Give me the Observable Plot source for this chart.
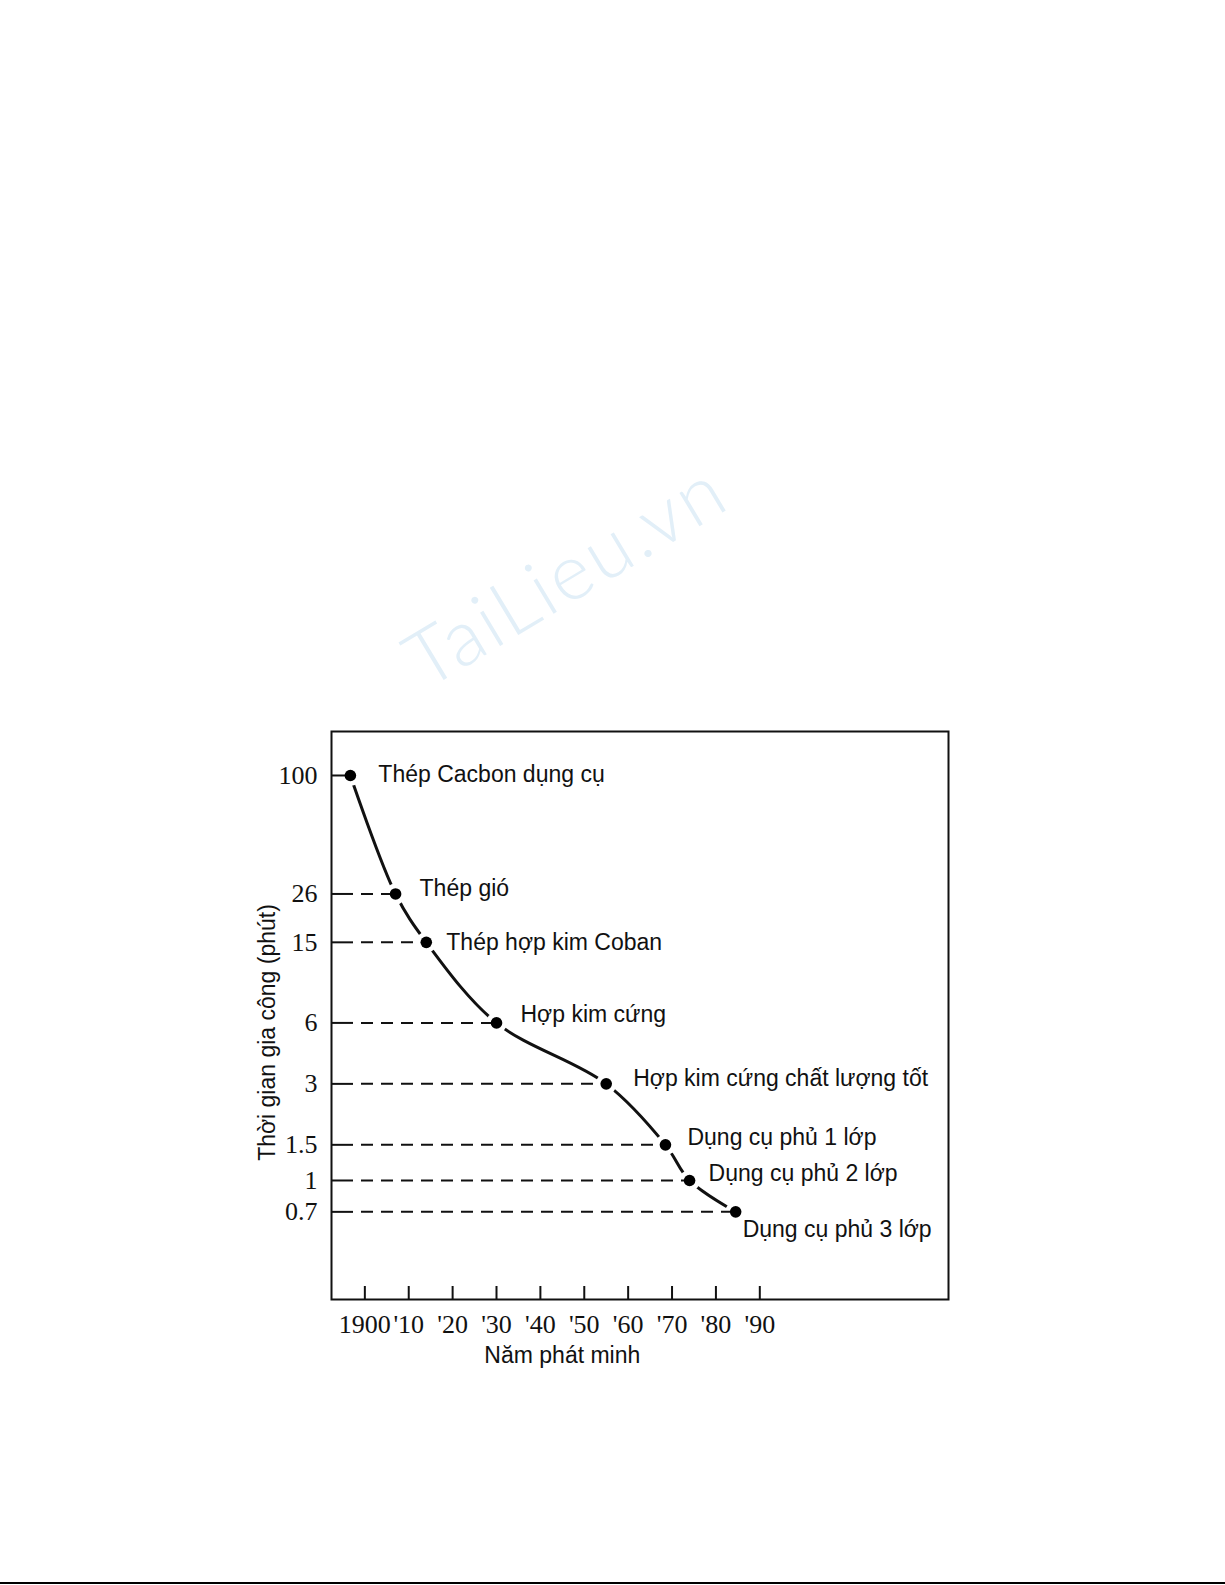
<!DOCTYPE html>
<html>
<head>
<meta charset="utf-8">
<script src="https://cdn.jsdelivr.net/npm/d3@7"></script>
<script src="https://cdn.jsdelivr.net/npm/@observablehq/plot@0.6"></script>
<style>
  html, body { margin: 0; padding: 0; background: #fff; }
  body { width: 1225px; height: 1585px; position: relative; overflow: hidden; }
  #wm {
    position: absolute; left: 424px; top: 622px;
    font-family: Lato, "Open Sans", sans-serif; font-weight: 300;
    font-size: 78px; line-height: 78px; letter-spacing: 3px; white-space: nowrap;
    color: rgb(226, 239, 248);
    transform-origin: 0 65px; transform: rotate(-31deg);
  }
  #chart { position: absolute; left: 0; top: 0; }
  #bottomline { position: absolute; left: 0; top: 1582px; width: 1225px; height: 2px; background: #000; }
</style>
</head>
<body>
<div id="wm">TaiLieu.vn</div>
<div id="chart"></div>
<div id="bottomline"></div>
<script>
// ---- data ----
const names = [
  "Thép Cacbon dụng cụ",
  "Thép gió",
  "Thép hợp kim Coban",
  "Hợp kim cứng",
  "Hợp kim cứng chất lượng tốt",
  "Dụng cụ phủ 1 lớp",
  "Dụng cụ phủ 2 lớp",
  "Dụng cụ phủ 3 lớp"
];
const years = [1896.7, 1907, 1914, 1930, 1955, 1968.5, 1974, 1984.5];
const minutes = [100, 26, 15, 6, 3, 1.5, 1, 0.7];
const yTicks = [100, 26, 15, 6, 3, 1.5, 1, 0.7];
const yTickLabels = ["100", "26", "15", "6", "3", "1.5", "1", "0.7"];
const xTicks = [1900, 1910, 1920, 1930, 1940, 1950, 1960, 1970, 1980, 1990];
const xTickLabels = ["1900", "'10", "'20", "'30", "'40", "'50", "'60", "'70", "'80", "'90"];
const xTitle = "Năm phát minh";
const yTitle = "Thời gian gia công (phút)";

// ---- layout ----
const W = 1225, H = 1585;
const M = {top: 731, right: 277, bottom: 286, left: 331};
const xDomain = [1892.4, 2033];
const yDomain = [0.2584, 164.9];
const labelDx = [28, 24, 20, 24, 27, 22, 19, 7];
const labelDy = [-1, -5, 0, -8, -5, -7, -7, 18];
const plotW = W - M.left - M.right;
const plotH = H - M.top - M.bottom;
const serif = "'Liberation Serif', 'Times New Roman', serif";
const sans = "'Liberation Sans', Arial, sans-serif";
const ink = "#111";

const near = (arr, v) => arr.findIndex(t => Math.abs(t - v) <= 1e-6 * Math.max(1, Math.abs(t)));
const points = names.map((name, i) => ({name, year: years[i], value: minutes[i]}));
const yTickRows = yTicks.map((v, i) => ({v, label: yTickLabels[i]}));

const chart = Plot.plot({
  width: W,
  height: H,
  marginTop: M.top,
  marginRight: M.right,
  marginBottom: M.bottom,
  marginLeft: M.left,
  style: {background: "transparent", fontFamily: sans, color: ink, overflow: "visible"},
  x: {type: "linear", domain: xDomain},
  y: {type: "log", domain: yDomain, axis: null},
  marks: [
    Plot.frame({stroke: ink, strokeWidth: 2}),
    Plot.tickX(xTicks, {x: d => d, insetTop: plotH - 13, stroke: ink, strokeWidth: 2}),
    Plot.axisX({
      ticks: xTicks, tickFormat: d => xTickLabels[near(xTicks, d)],
      tickSize: 0, tickPadding: 15, fontSize: 26, fontFamily: serif, label: null, fill: ink
    }),
    // y tick labels (log scale positions)
    Plot.text(yTickRows, {
      y: "v", text: "label", frameAnchor: "left", textAnchor: "end", lineAnchor: "middle",
      dx: -14, fontSize: 26, fontFamily: serif, fill: ink
    }),
    Plot.line(points, {x: "year", y: "value", curve: "catmull-rom", stroke: ink, strokeWidth: 3}),
    Plot.dot(points, {x: "year", y: "value", r: 10.5, fill: "white", stroke: "none"}),
    Plot.ruleY(points, {
      y: "value", x1: xDomain[0], x2: "year", insetLeft: 22,
      stroke: ink, strokeWidth: 2, strokeDasharray: "12,8", strokeDashoffset: 12
    }),
    Plot.tickY(yTicks, {y: d => d, insetRight: plotW - 22, stroke: ink, strokeWidth: 2}),
    Plot.dot(points, {x: "year", y: "value", r: 5.8, fill: "#000", stroke: "none"}),
    ...points.map((p, i) => Plot.text([p], {
      x: "year", y: "value", text: "name", textAnchor: "start", lineAnchor: "middle",
      dx: labelDx[i], dy: labelDy[i], fontSize: 23, fontFamily: sans, fill: ink
    })),
    Plot.text([xTitle], {
      x: () => (xTicks[0] + xTicks[xTicks.length - 1]) / 2,
      frameAnchor: "bottom", dy: 56, lineAnchor: "middle", textAnchor: "middle",
      fontSize: 23, fontFamily: sans, fill: ink
    }),
    Plot.text([yTitle], {
      frameAnchor: "left", rotate: -90, dx: -64, dy: 17, lineAnchor: "middle", textAnchor: "middle",
      fontSize: 23, fontFamily: sans, fill: ink
    })
  ]
});
document.getElementById("chart").appendChild(chart);
</script>
</body>
</html>
